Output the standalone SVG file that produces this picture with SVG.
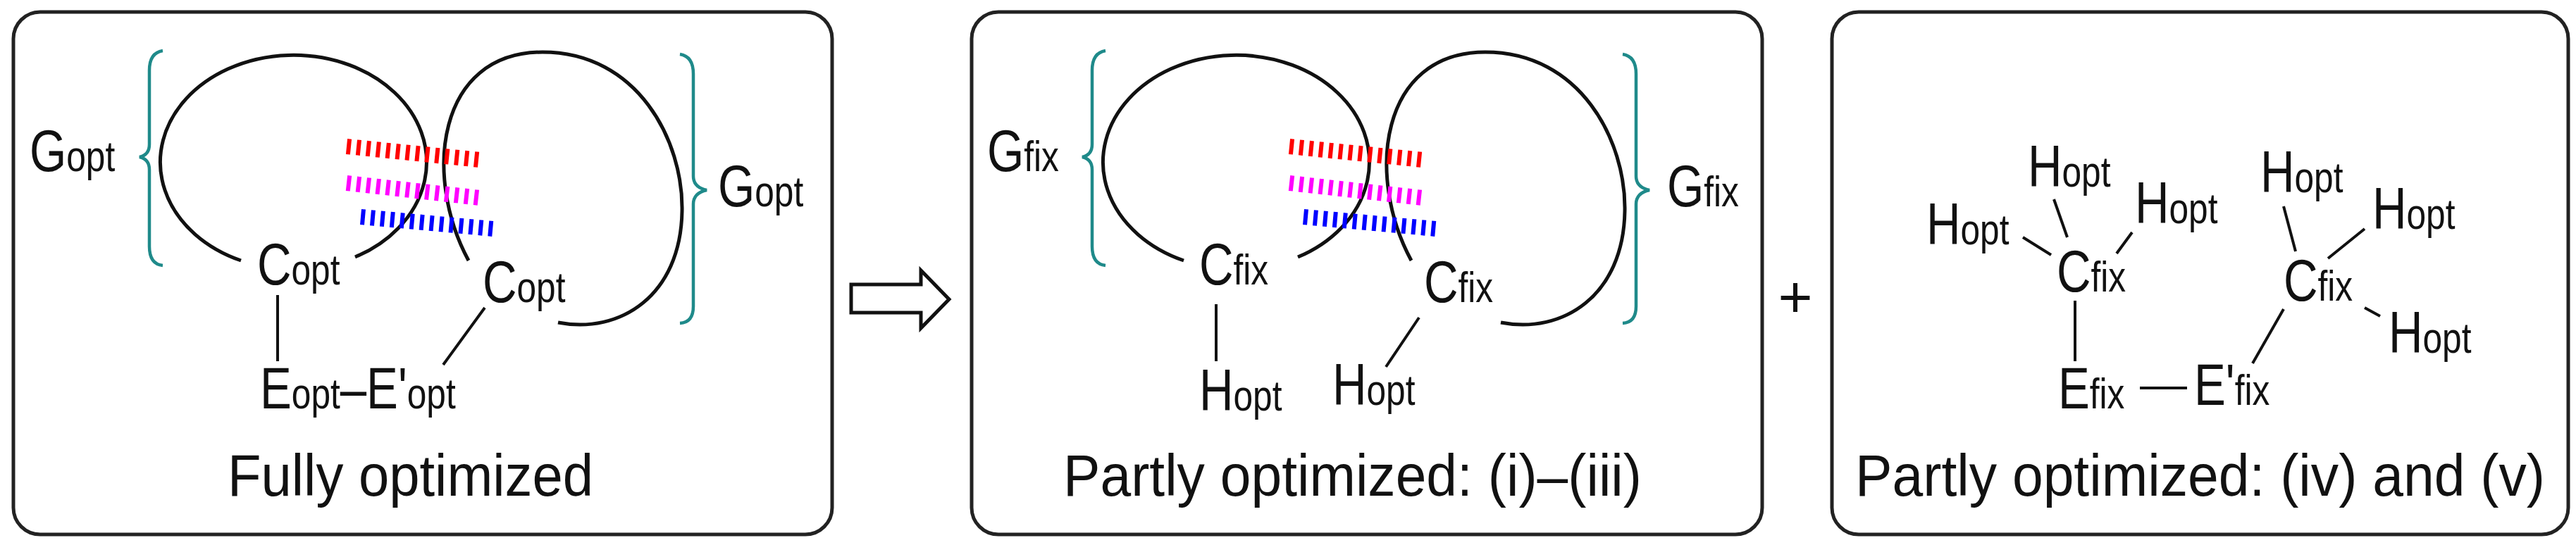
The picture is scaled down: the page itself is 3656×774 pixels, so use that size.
<svg xmlns="http://www.w3.org/2000/svg" width="3656" height="774" viewBox="0 0 3656 774">
<style>
.box{fill:#fff;stroke:#222;stroke-width:5}
.ln{fill:none;stroke:#111;stroke-width:5}
.bond{stroke:#111;stroke-width:4}
.br{fill:none;stroke:#1f8a8a;stroke-width:4.5}
.t{font-family:"Liberation Sans",Arial,sans-serif;font-size:84px;fill:#111}
.s{font-size:62px}
.dr{fill:none;stroke:#f00;stroke-width:22;stroke-dasharray:6 8}
.dm{fill:none;stroke:#f0f;stroke-width:22;stroke-dasharray:6 8}
.db{fill:none;stroke:#00f;stroke-width:22;stroke-dasharray:6 8}
</style>
<rect width="3656" height="774" fill="#fff"/>
<g id="panel1">
<rect class="box" x="19" y="17" width="1162" height="742" rx="38"/>
<path class="ln" d="M342 370 A189 152 0 1 1 504 365"/>
<path class="ln" d="M665 370 C600 250 620 74 770 74 C905 74 970 200 968 300 C966 420 880 475 792 458"/>
<path class="br" d="M231 72 Q212 75 212 100 L212 205 Q212 220 198 223 Q212 226 212 241 L212 350 Q212 375 231 377"/>
<path class="br" d="M965 77 Q984 80 984 105 L984 250 Q984 266 1003 270 Q984 274 984 290 L984 435 Q984 458 965 459"/>
<path class="dr" d="M492 208 L681 227"/>
<path class="dm" d="M492 260 L681 281"/>
<path class="db" d="M512 308 L700 325"/>
<text class="t" transform="translate(42 243) scale(0.8 1)">G<tspan class="s">opt</tspan></text>
<text class="t" transform="translate(1019 293) scale(0.8 1)">G<tspan class="s">opt</tspan></text>
<text class="t" transform="translate(365 404) scale(0.8 1)">C<tspan class="s">opt</tspan></text>
<text class="t" transform="translate(685 429) scale(0.8 1)">C<tspan class="s">opt</tspan></text>
<line class="bond" x1="394" y1="419" x2="394" y2="513"/>
<line class="bond" x1="688" y1="437" x2="629" y2="518"/>
<text class="t" transform="translate(369 580) scale(0.8 1)">E<tspan class="s">opt</tspan>–E'<tspan class="s">opt</tspan></text>
<text class="t" x="323" y="704" textLength="519" lengthAdjust="spacingAndGlyphs">Fully optimized</text>
</g>
<g id="arrow">
<path d="M1208 404 L1307 404 L1307 384 L1347 425 L1307 466 L1307 444 L1208 444 Z" fill="#fff" stroke="#111" stroke-width="5"/>
</g>
<g id="panel2">
<rect class="box" x="1379" y="17" width="1122" height="742" rx="38"/>
<g transform="translate(1338 0)">
<path class="ln" d="M342 370 A189 152 0 1 1 504 365"/>
<path class="ln" d="M665 370 C600 250 620 74 770 74 C905 74 970 200 968 300 C966 420 880 475 792 458"/>
<path class="br" d="M231 72 Q212 75 212 100 L212 205 Q212 220 198 223 Q212 226 212 241 L212 350 Q212 375 231 377"/>
<path class="br" d="M965 77 Q984 80 984 105 L984 250 Q984 266 1003 270 Q984 274 984 290 L984 435 Q984 458 965 459"/>
<path class="dr" d="M492 208 L681 227"/>
<path class="dm" d="M492 260 L681 281"/>
<path class="db" d="M512 308 L700 325"/>
</g>
<text class="t" transform="translate(1401 243) scale(0.8 1)">G<tspan class="s">fix</tspan></text>
<text class="t" transform="translate(2366 293) scale(0.8 1)">G<tspan class="s">fix</tspan></text>
<text class="t" transform="translate(1702 404) scale(0.8 1)">C<tspan class="s">fix</tspan></text>
<text class="t" transform="translate(2021 429) scale(0.8 1)">C<tspan class="s">fix</tspan></text>
<line class="bond" x1="1726" y1="432" x2="1726" y2="513"/>
<line class="bond" x1="2014" y1="451" x2="1967" y2="521"/>
<text class="t" transform="translate(1702 583) scale(0.8 1)">H<tspan class="s">opt</tspan></text>
<text class="t" transform="translate(1891 575) scale(0.8 1)">H<tspan class="s">opt</tspan></text>
<text class="t" x="1509" y="704" textLength="821" lengthAdjust="spacingAndGlyphs">Partly optimized: (i)–(iii)</text>
</g>
<g id="plus">
<text class="t" x="2548" y="450" text-anchor="middle">+</text>
</g>
<g id="panel3">
<rect class="box" x="2600" y="17" width="1045" height="742" rx="38"/>
<text class="t" transform="translate(2919 414) scale(0.8 1)">C<tspan class="s">fix</tspan></text>
<text class="t" transform="translate(2878 265) scale(0.8 1)">H<tspan class="s">opt</tspan></text>
<text class="t" transform="translate(2734 347) scale(0.8 1)">H<tspan class="s">opt</tspan></text>
<text class="t" transform="translate(3030 317) scale(0.8 1)">H<tspan class="s">opt</tspan></text>
<line class="bond" x1="2915" y1="283" x2="2934" y2="337"/>
<line class="bond" x1="2871" y1="337" x2="2911" y2="362"/>
<line class="bond" x1="3026" y1="330" x2="3004" y2="360"/>
<line class="bond" x1="2945" y1="427" x2="2945" y2="513"/>
<text class="t" transform="translate(2921 580) scale(0.8 1)">E<tspan class="s">fix</tspan></text>
<line class="bond" x1="3037" y1="551" x2="3104" y2="551"/>
<text class="t" transform="translate(3114 575) scale(0.8 1)">E'<tspan class="s">fix</tspan></text>
<text class="t" transform="translate(3241 427) scale(0.8 1)">C<tspan class="s">fix</tspan></text>
<text class="t" transform="translate(3208 273) scale(0.8 1)">H<tspan class="s">opt</tspan></text>
<text class="t" transform="translate(3367 325) scale(0.8 1)">H<tspan class="s">opt</tspan></text>
<text class="t" transform="translate(3390 501) scale(0.8 1)">H<tspan class="s">opt</tspan></text>
<line class="bond" x1="3241" y1="293" x2="3258" y2="357"/>
<line class="bond" x1="3356" y1="325" x2="3304" y2="367"/>
<line class="bond" x1="3356" y1="437" x2="3378" y2="449"/>
<line class="bond" x1="3241" y1="439" x2="3197" y2="516"/>
<text class="t" x="2633" y="704" textLength="979" lengthAdjust="spacingAndGlyphs">Partly optimized: (iv) and (v)</text>
</g>
</svg>
